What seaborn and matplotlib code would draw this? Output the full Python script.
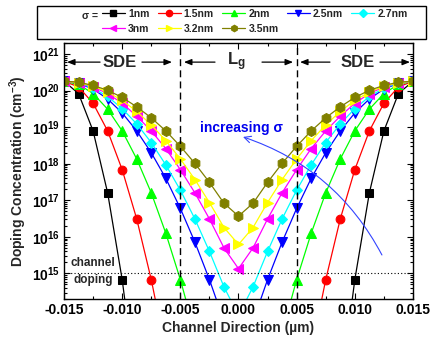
import numpy as np
import pandas as pd
import matplotlib
matplotlib.use('Agg')
import matplotlib.pyplot as plt
import seaborn as sns
from matplotlib.lines import Line2D
from matplotlib.patches import Rectangle
from matplotlib.ticker import MultipleLocator, LogLocator, FormatStrFormatter

nan = np.nan

# ---------------- data ----------------
x_um = [-0.015, -0.01375, -0.0125, -0.01125, -0.010, -0.00875, -0.0075, -0.00625,
        -0.005, -0.00375, -0.0025, -0.00125, 0.0, 0.00125, 0.0025, 0.00375,
        0.005, 0.00625, 0.0075, 0.00875, 0.010, 0.01125, 0.0125, 0.01375, 0.015]

sigma_labels = ['1nm', '1.5nm', '2nm', '2.5nm', '2.7nm', '3nm', '3.2nm', '3.5nm']

n_1nm = [1.80e20, 8.3e19, 7.9e18, 1.6e17, 6.8e14, 5.9e11,
         nan, nan, nan, nan, nan, nan, nan, nan, nan, nan, nan, nan, nan,
         5.9e11, 6.8e14, 1.6e17, 7.9e18, 8.3e19, 1.80e20]
n_1p5nm = [1.80e20, 1.26e20, 4.5e19, 7.9e18, 6.9e17, 3.1e16, 6.8e14, 7.4e12,
           nan, nan, nan, nan, nan, nan, nan, nan, nan,
           7.4e12, 6.8e14, 3.1e16, 6.9e17, 7.9e18, 4.5e19, 1.26e20, 1.80e20]
n_2nm = [1.80e20, 1.48e20, 8.3e19, 3.1e19, 7.9e18, 1.35e18, 1.6e17, 1.26e16, 6.8e14, 2.4e13,
         nan, nan, nan, nan, nan,
         2.4e13, 6.8e14, 1.26e16, 1.6e17, 1.35e18, 7.9e18, 3.1e19, 8.3e19, 1.48e20, 1.80e20]
n_2p5nm = [1.80e20, 1.58e20, 1.10e20, 5.9e19, 2.45e19, 7.9e18, 2.0e18, 4.0e17, 6.0e16,
           7.2e15, 6.8e14, 4.9e13, 5.5e12, 4.9e13, 6.8e14, 7.2e15, 6.0e16, 4.0e17,
           2.0e18, 7.9e18, 2.45e19, 5.9e19, 1.10e20, 1.58e20, 1.80e20]
n_2p7nm = [1.80e20, 1.62e20, 1.17e20, 6.9e19, 3.2e19, 1.23e19, 3.8e18, 9.3e17, 1.9e17,
           3.1e16, 4.0e15, 4.3e14, 7.1e13, 4.3e14, 4.0e15, 3.1e16, 1.9e17, 9.3e17,
           3.8e18, 1.23e19, 3.2e19, 6.9e19, 1.17e20, 1.62e20, 1.80e20]
n_3nm = [1.80e20, 1.66e20, 1.26e20, 8.3e19, 4.5e19, 2.0e19, 7.9e18, 2.6e18, 6.9e17,
         1.6e17, 3.1e16, 5.0e15, 1.35e15, 5.0e15, 3.1e16, 1.6e17, 6.9e17, 2.6e18,
         7.9e18, 2.0e19, 4.5e19, 8.3e19, 1.26e20, 1.66e20, 1.80e20]
n_3p2nm = [1.80e20, 1.66e20, 1.32e20, 9.1e19, 5.4e19, 2.7e19, 1.15e19, 4.3e18, 1.35e18,
           3.7e17, 8.7e16, 1.8e16, 6.2e15, 1.8e16, 8.7e16, 3.7e17, 1.35e18, 4.3e18,
           1.15e19, 2.7e19, 5.4e19, 9.1e19, 1.32e20, 1.66e20, 1.80e20]
n_3p5nm = [1.80e20, 1.70e20, 1.38e20, 1.02e20, 6.5e19, 3.6e19, 1.8e19, 7.9e18, 3.0e18,
           1.02e18, 3.1e17, 8.3e16, 3.7e16, 8.3e16, 3.1e17, 1.02e18, 3.0e18, 7.9e18,
           1.8e19, 3.6e19, 6.5e19, 1.02e20, 1.38e20, 1.70e20, 1.80e20]

series = [n_1nm, n_1p5nm, n_2nm, n_2p5nm, n_2p7nm, n_3nm, n_3p2nm, n_3p5nm]

# ---------------- styles ----------------
colors = ['#000000', '#ff0000', '#00ff00', '#0000ff', '#00ffff', '#ff00ff', '#ffff00', '#808000']
markers = ['s', 'o', '^', 'v', 'D', '<', '>', 'h']
msizes = [5.4, 6.3, 7.0, 7.0, 5.4, 7.0, 7.0, 7.2]

sns.set_theme(style='ticks')
plt.rcParams.update({
    'font.family': ['Liberation Sans', 'DejaVu Sans'],
    'font.weight': 'bold',
    'axes.labelweight': 'bold',
    'axes.unicode_minus': False,
    'mathtext.fontset': 'custom',
    'mathtext.rm': 'Liberation Sans:bold',
    'mathtext.it': 'Liberation Sans:bold',
    'mathtext.bf': 'Liberation Sans:bold',
    'axes.edgecolor': 'black',
    'axes.linewidth': 1.0,
})

fig = plt.figure(figsize=(4.31, 3.45), dpi=100)
ax = fig.add_axes([64 / 431, 46 / 345, 349 / 431, 256 / 345])
ax.set_yscale('log')

for ys, c, m, ms in zip(series, colors, markers, msizes):
    df = pd.DataFrame({'x': x_um, 'N': ys}).dropna()
    sns.lineplot(data=df, x='x', y='N', color=c, marker=m, markersize=ms,
                 markeredgecolor=c, markerfacecolor=c, linewidth=0.9,
                 ax=ax, legend=False, sort=False)

ax.set_xlim(-0.015, 0.015)
ax.set_ylim(2e14, 2e21)
ax.xaxis.set_major_locator(MultipleLocator(0.005))
ax.xaxis.set_minor_locator(MultipleLocator(0.0025))
ax.xaxis.set_major_formatter(FormatStrFormatter('%.3f'))
ax.yaxis.set_major_locator(LogLocator(base=10, numticks=20))
ax.yaxis.set_minor_locator(LogLocator(base=10, subs=np.arange(2, 10), numticks=100))
ax.tick_params(which='both', direction='in', top=True, right=True, width=0.8,
               colors='black', labelsize=10)
ax.tick_params(which='major', length=4, pad=3)
ax.tick_params(which='minor', length=2)

ax.set_xlabel('Channel Direction (µm)', fontsize=10, fontweight='bold', labelpad=3)
ax.set_ylabel('Doping Concentration (cm$^{-3}$)', fontsize=10, fontweight='bold', labelpad=2)

# reference lines
ax.axvline(-0.005, color='black', lw=1.0, ls=(0, (5, 3)))
ax.axvline(0.005, color='black', lw=1.0, ls=(0, (5, 3)))
ax.axhline(1e15, color='black', lw=0.8, ls=(0, (1, 2)))

# region annotations
y_reg = 6e20
ax.text(-0.01023, y_reg, 'SDE', ha='center', va='center', fontsize=12, fontweight='bold')
ax.text(0.01023, y_reg, 'SDE', ha='center', va='center', fontsize=12, fontweight='bold')
ax.text(-0.0002, y_reg, 'L$_{g}$', ha='center', va='center', fontsize=12, fontweight='bold')
aprops = dict(arrowstyle='-|>,head_length=0.45,head_width=0.18', color='black',
              lw=0.9, shrinkA=0, shrinkB=0, mutation_scale=10)
for tail, head in [(-0.0119, -0.01474), (-0.0083, -0.00572),
                   (-0.00202, -0.00469), (0.00202, 0.00469),
                   (0.00786, 0.00529), (0.01216, 0.01474)]:
    ax.annotate('', xy=(head, y_reg), xytext=(tail, y_reg), arrowprops=aprops)

ax.text(-0.01255, 1.9e15, 'channel', ha='center', va='center', fontsize=8.5, fontweight='bold')
ax.text(-0.01251, 6.6e14, 'doping', ha='center', va='center', fontsize=8.5, fontweight='bold')

ax.text(0.000215, 9.5e18, 'increasing σ', ha='center', va='center', fontsize=10,
        fontweight='bold', color='#0000ee')
ax.annotate('', xy=(0.00039, 5.4e18), xytext=(0.01233, 3.2e15),
            arrowprops=dict(arrowstyle='->', color='#3344ff', lw=0.8,
                            connectionstyle='arc3,rad=0.2', shrinkA=0, shrinkB=0))

# legend box
fig.patches.append(Rectangle((37 / 431, 1 - 39 / 345), 389 / 431, 33 / 345,
                             transform=fig.transFigure, fill=False,
                             edgecolor='black', lw=1.0))
fig.text(89.5 / 431, 1 - 16 / 345, 'σ =', ha='center', va='center', fontsize=7.5,
         fontweight='bold')
handles = [Line2D([0], [0], color=c, marker=m, markersize=4.5, lw=0.9,
                  markeredgecolor=c, markerfacecolor=c)
           for c, m in zip(colors, markers)]
order = [0, 5, 1, 6, 2, 7, 3, 4]
fig.legend([handles[i] for i in order], [sigma_labels[i] for i in order],
           ncol=5, loc='upper left', bbox_to_anchor=(102 / 431, 1 - 9 / 345),
           frameon=False, borderpad=0, borderaxespad=0,
           handlelength=2.2, handletextpad=0.3, columnspacing=0.8,
           labelspacing=0.45, prop={'weight': 'bold', 'size': 7.5})

fig.savefig('out.png', dpi=100)
